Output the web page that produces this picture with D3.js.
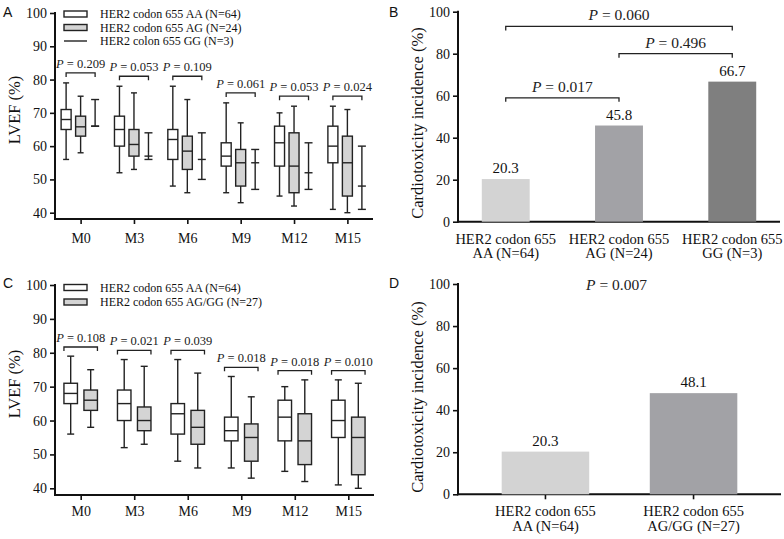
<!DOCTYPE html>
<html><head><meta charset="utf-8">
<script src="https://cdn.jsdelivr.net/npm/d3@7"></script>
<style>body{margin:0;background:#fff}svg{display:block}</style>
</head><body>
<svg id="chart" width="784" height="539"></svg>
<script>
// ---------- DATA ----------
const timepoints = ["M0","M3","M6","M9","M12","M15"];
const lvefTicks = [40,50,60,70,80,90,100];
// [min, q1, median, q3, max]
const lvefAA = [[56,65,68,71,79],[52,60,65,69,78],[48,56,62,65,78],[46,54,57,61,73],[45,54,61,66,70],[41,55,60,66,72]];
const lvefAG = [[58,63,65.8,69,75],[53,57,60.5,65,76],[46,53,58.5,63,74],[43,48,55,59,67],[42,46,54,64,72],[40,45,55,63,71]];
// [min, median, max]
const lvefGG = [[66,66,74],[56,57,64],[50,56,64],[47,55,59],[47,52,61],[41,48,60]];
const lvefAGGG = [[58,63,66,69,75],[53,57,60,64,76],[46,53,58,63,74],[43,48,55,59,67],[42,47,54,62,72],[40,44,55,61,71]];
const pValuesA = ["0.209","0.053","0.109","0.061","0.053","0.024"];
const pValuesC = ["0.108","0.021","0.039","0.018","0.018","0.010"];
const legendA = ["HER2 codon 655 AA (N=64)","HER2 codon 655 AG (N=24)","HER2 colon 655 GG (N=3)"];
const legendC = ["HER2 codon 655 AA (N=64)","HER2 codon 655 AG/GG (N=27)"];

const incTicks = [0,20,40,60,80,100];
const genotypesB = ["AA (N=64)","AG (N=24)","GG (N=3)"];
const incidenceB = [20.3,45.8,66.7];
const pairsB = [[0,1],[1,2],[0,2]];
const pValuesB = ["0.017","0.496","0.060"];
const bracketLevelB = [59,80,93];
const genotypesD = ["AA (N=64)","AG/GG (N=27)"];
const incidenceD = [20.3,48.1];
const pValueD = "0.007";
const geneLabel = "HER2 codon 655";

// ---------- STYLE ----------
const serif = "'Liberation Serif','Times New Roman',serif";
const sans = "'Liberation Sans',Arial,sans-serif";
const ink = "#222";
const boxFills = {AA:"#ffffff", AG:"#d4d4d4"};
const barFillsB = ["#d3d3d3","#a2a2a6","#7f7f7f"];
const barFillsD = ["#d3d3d3","#a2a2a6"];

const svg = d3.select("#chart");

function pText(g, x, y, p, size){
  const t = g.append("text").attr("x",x).attr("y",y).attr("text-anchor","middle")
    .attr("font-family",serif).attr("font-size",size).attr("fill",ink);
  t.append("tspan").attr("font-style","italic").text("P");
  t.append("tspan").text(" = " + p);
}

function bracket(g, x1, x2, y, drop){
  g.append("path").attr("d",`M${x1},${y+drop}V${y}H${x2}V${y+drop}`)
    .attr("fill","none").attr("stroke",ink).attr("stroke-width",1.3);
}

function styleAxis(sel, size){
  sel.selectAll(".domain").remove();
  sel.selectAll("line").attr("stroke","#111").attr("stroke-width",1.6);
  sel.selectAll("text").attr("font-family",serif).attr("font-size",size).attr("fill","#111");
}

function drawBox(g, cx, s, w, capW, fill, y){
  g.append("line").attr("x1",cx).attr("x2",cx).attr("y1",y(s[0])).attr("y2",y(s[4]))
    .attr("stroke",ink).attr("stroke-width",1.4);
  [s[0],s[4]].forEach(v=>g.append("line").attr("x1",cx-capW/2).attr("x2",cx+capW/2)
    .attr("y1",y(v)).attr("y2",y(v)).attr("stroke",ink).attr("stroke-width",1.4));
  g.append("rect").attr("x",cx-w/2).attr("width",w).attr("y",y(s[3])).attr("height",y(s[1])-y(s[3]))
    .attr("fill",fill).attr("stroke",ink).attr("stroke-width",1.4);
  g.append("line").attr("x1",cx-w/2).attr("x2",cx+w/2).attr("y1",y(s[2])).attr("y2",y(s[2]))
    .attr("stroke",ink).attr("stroke-width",1.4);
}

function drawRange(g, cx, s, capW, y){
  g.append("line").attr("x1",cx).attr("x2",cx).attr("y1",y(s[0])).attr("y2",y(s[2]))
    .attr("stroke",ink).attr("stroke-width",1.4);
  s.forEach(v=>g.append("line").attr("x1",cx-capW/2).attr("x2",cx+capW/2)
    .attr("y1",y(v)).attr("y2",y(v)).attr("stroke",ink).attr("stroke-width",1.4));
}

function lvefFrame(g, x, y, base, xLabelY, titleY, label, labelY){
  const left = x.range()[0], right = x.range()[1];
  const ya = g.append("g").attr("transform",`translate(${left},0)`)
    .call(d3.axisLeft(y).tickValues(lvefTicks).tickSize(5).tickPadding(3));
  styleAxis(ya, 14);
  const xa = g.append("g").attr("transform",`translate(0,${base})`)
    .call(d3.axisBottom(x).tickSize(5).tickPadding(10));
  styleAxis(xa, 14);
  xa.selectAll("text").attr("dy",null).attr("y",xLabelY-base);
  g.append("line").attr("x1",left).attr("x2",left).attr("y1",y(100)-1).attr("y2",base+1)
    .attr("stroke","#111").attr("stroke-width",2);
  g.append("line").attr("x1",left-1).attr("x2",right).attr("y1",base).attr("y2",base)
    .attr("stroke","#111").attr("stroke-width",2);
  g.append("text").attr("transform",`translate(20,${titleY}) rotate(-90)`).attr("text-anchor","middle")
    .attr("font-family",serif).attr("font-size",16.5).attr("fill","#111").text("LVEF (%)");
  g.append("text").attr("x",3).attr("y",labelY).attr("font-family",sans).attr("font-size",14)
    .attr("fill","#111").text(label);
}

// ---------- PANEL A ----------
{
  const g = svg.append("g");
  const x = d3.scalePoint(timepoints,[55,373]).padding(0.48);
  const y = d3.scaleLinear([40,100],[212.7,13]);
  const sub = d3.scalePoint(["AA","AG","GG"],[-14.5,14.5]);
  lvefFrame(g, x, y, 219, 243, 110, "A", 17);
  timepoints.forEach((t,i)=>{
    const cx = x(t);
    drawBox(g, cx+sub("AA"), lvefAA[i], 10, 6, boxFills.AA, y);
    drawBox(g, cx+sub("AG"), lvefAG[i], 10, 6, boxFills.AG, y);
    drawRange(g, cx+sub("GG"), lvefGG[i], 8, y);
    const lvl = y(Math.max(lvefAA[i][4], lvefAG[i][4], lvefGG[i][2]) + 3);
    bracket(g, cx+sub("AA"), cx+sub("GG"), lvl, 4);
    pText(g, cx, lvl-5, pValuesA[i], 12.5);
  });
  const ly = d3.scalePoint(legendA,[14,41]);
  legendA.forEach((txt,i)=>{
    const yy = ly(txt);
    if(i<2) g.append("rect").attr("x",64).attr("y",yy-3).attr("width",23).attr("height",6)
      .attr("fill",i===0?boxFills.AA:boxFills.AG).attr("stroke",ink).attr("stroke-width",1.4);
    else g.append("line").attr("x1",64).attr("x2",87).attr("y1",yy).attr("y2",yy)
      .attr("stroke",ink).attr("stroke-width",1.4);
    g.append("text").attr("x",100).attr("y",yy+4).attr("font-family",serif).attr("font-size",12)
      .attr("fill","#111").text(txt);
  });
}

// ---------- PANEL C ----------
{
  const g = svg.append("g");
  const x = d3.scalePoint(timepoints,[55,374]).padding(0.48);
  const y = d3.scaleLinear([40,100],[488.3,285]);
  const sub = d3.scalePoint(["AA","AGGG"],[-10,10]);
  const bw = 13.5;
  lvefFrame(g, x, y, 495, 516, 384, "C", 288);
  timepoints.forEach((t,i)=>{
    const cx = x(t);
    drawBox(g, cx+sub("AA"), lvefAA[i], bw, 7, boxFills.AA, y);
    drawBox(g, cx+sub("AGGG"), lvefAGGG[i], bw, 7, boxFills.AG, y);
    const lvl = y(Math.max(lvefAA[i][4], lvefAGGG[i][4]) + 2.7);
    bracket(g, cx+sub("AA")-bw/2, cx+sub("AGGG")+bw/2, lvl, 4);
    pText(g, cx, lvl-5, pValuesC[i], 12.5);
  });
  const ly = d3.scalePoint(legendC,[287.5,302]);
  legendC.forEach((txt,i)=>{
    const yy = ly(txt);
    g.append("rect").attr("x",64).attr("y",yy-3).attr("width",23).attr("height",6)
      .attr("fill",i===0?boxFills.AA:boxFills.AG).attr("stroke",ink).attr("stroke-width",1.4);
    g.append("text").attr("x",100).attr("y",yy+4).attr("font-family",serif).attr("font-size",12)
      .attr("fill","#111").text(txt);
  });
}

// ---------- BAR PANELS ----------
function barFrame(g, x, y, label, labelY, titleY, xTicks){
  const left = x.range()[0], right = x.range()[1], base = y(0);
  const ya = g.append("g").attr("transform",`translate(${left},0)`)
    .call(d3.axisLeft(y).tickValues(incTicks).tickSize(5).tickPadding(3));
  styleAxis(ya, 14);
  g.append("line").attr("x1",left).attr("x2",left).attr("y1",y(100)-1).attr("y2",base+1)
    .attr("stroke","#111").attr("stroke-width",2);
  g.append("line").attr("x1",left-1).attr("x2",right).attr("y1",base).attr("y2",base)
    .attr("stroke","#111").attr("stroke-width",2);
  if(xTicks){
    x.domain().forEach(d=>g.append("line").attr("x1",x(d)+x.bandwidth()/2).attr("x2",x(d)+x.bandwidth()/2)
      .attr("y1",base).attr("y2",base+5).attr("stroke","#111").attr("stroke-width",1.6));
  }
  x.domain().forEach(d=>{
    const cx = x(d)+x.bandwidth()/2;
    g.append("text").attr("x",cx).attr("y",base+22).attr("text-anchor","middle")
      .attr("font-family",serif).attr("font-size",14.5).attr("fill","#111").text(geneLabel);
    g.append("text").attr("x",cx).attr("y",base+36.5).attr("text-anchor","middle")
      .attr("font-family",serif).attr("font-size",14.5).attr("fill","#111").text(d);
  });
  g.append("text").attr("transform",`translate(423,${titleY}) rotate(-90)`).attr("text-anchor","middle")
    .attr("font-family",serif).attr("font-size",16.5).attr("fill","#111").text("Cardiotoxicity incidence (%)");
  g.append("text").attr("x",389).attr("y",labelY).attr("font-family",sans).attr("font-size",14)
    .attr("fill","#111").text(label);
}

function bars(g, x, y, keys, vals, fills){
  keys.forEach((k,i)=>{
    g.append("rect").attr("x",x(k)).attr("width",x.bandwidth()).attr("y",y(vals[i]))
      .attr("height",y(0)-y(vals[i])).attr("fill",fills[i]);
    g.append("text").attr("x",x(k)+x.bandwidth()/2).attr("y",y(vals[i])-6).attr("text-anchor","middle")
      .attr("font-family",serif).attr("font-size",15).attr("fill","#111").text(vals[i].toFixed(1));
  });
}

// Panel B
{
  const g = svg.append("g");
  const x = d3.scaleBand(genotypesB,[458,780]).paddingInner(0.577).paddingOuter(0.21);
  const y = d3.scaleLinear([0,100],[221.7,11.7]);
  barFrame(g, x, y, "B", 17, 123, false);
  bars(g, x, y, genotypesB, incidenceB, barFillsB);
  const c = k => x(k)+x.bandwidth()/2;
  pairsB.forEach((pr,i)=>{
    const x1 = c(genotypesB[pr[0]]), x2 = c(genotypesB[pr[1]]);
    const yy = y(bracketLevelB[i]);
    bracket(g, x1, x2, yy, 4);
    pText(g, (x1+x2)/2, yy-6, pValuesB[i], 15.5);
  });
}

// Panel D
{
  const g = svg.append("g");
  const x = d3.scaleBand(genotypesD,[458,781]).paddingInner(0.409).paddingOuter(0.295);
  const y = d3.scaleLinear([0,100],[494.3,284]);
  barFrame(g, x, y, "D", 288, 397, true);
  bars(g, x, y, genotypesD, incidenceD, barFillsD);
  const c = k => x(k)+x.bandwidth()/2;
  pText(g, (c(genotypesD[0])+c(genotypesD[1]))/2 - 3, 290, pValueD, 15.5);
}
</script>
</body></html>
